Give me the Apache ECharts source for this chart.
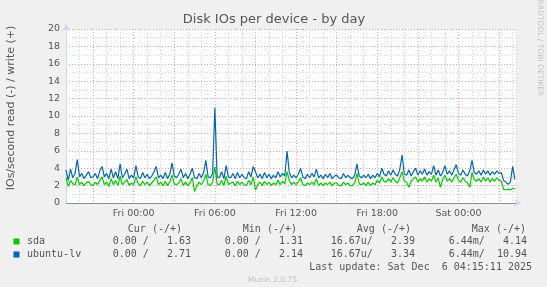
<!DOCTYPE html>
<html><head><meta charset="utf-8">
<script src="https://cdn.jsdelivr.net/npm/echarts@6/dist/echarts.min.js"></script>
<style>html,body{margin:0;padding:0;background:#f0f0f0}#c{width:547px;height:287px}</style>
</head><body><div id="c"></div><script>
// Time in hours relative to Fri 00:00; samples every 10 minutes starting Thu 19:00
const startHour = -5;
const stepHours = 1 / 6;

const sda = [
 2.9,1.9,2.6,2.2,2.1,3.0,
 2.1,2.4,2.0,2.3,2.5,2.1,
 2.0,2.4,2.1,2.6,3.0,2.1,
 2.4,1.9,2.8,2.1,2.6,2.0,
 3.1,2.1,2.4,2.7,2.0,2.3,
 2.1,3.0,2.2,2.0,2.5,2.1,
 2.4,2.0,2.3,2.6,3.0,2.1,
 2.4,2.0,2.5,2.0,2.4,3.2,
 2.2,2.1,2.3,2.8,2.0,2.4,
 2.0,2.3,2.9,1.31,2.0,2.4,
 2.1,2.5,3.3,2.1,2.0,2.4,
 4.14,2.2,2.1,2.6,2.0,3.1,
 2.1,2.3,2.4,2.0,2.5,2.1,
 2.4,2.1,2.0,2.6,2.1,3.0,
 1.5,2.1,2.4,2.0,2.5,2.1,
 2.4,2.0,2.3,2.1,2.6,2.1,
 2.5,2.2,3.6,2.6,2.1,2.4,
 2.1,2.4,2.9,2.1,2.0,2.3,
 2.1,2.4,2.1,2.8,2.0,2.3,
 2.0,2.3,2.1,2.4,2.0,2.3,
 2.3,2.0,2.0,2.4,2.1,2.3,
 2.0,2.0,2.3,3.4,2.2,2.1,
 2.3,2.0,2.4,2.0,2.3,2.1,
 2.6,2.3,3.0,2.5,2.4,2.8,
 2.4,2.9,2.5,2.3,2.9,3.6,
 2.5,2.4,1.8,2.5,2.8,3.0,
 2.4,2.8,2.5,3.0,2.4,2.8,
 2.5,3.2,2.4,2.9,1.8,2.7,
 3.2,2.5,2.8,2.4,2.9,3.3,
 2.6,2.4,2.9,2.5,2.3,1.8,
 3.5,2.7,2.5,2.8,2.4,3.0,
 2.5,2.9,2.4,2.8,2.5,2.9,
 2.6,2.5,1.6,1.5,1.6,1.5,
 1.7,1.63
];

const ubuntuLv = [
 3.8,2.6,3.9,2.9,3.4,5.0,
 3.0,3.4,2.8,3.2,3.6,2.9,
 3.0,3.4,2.8,3.7,4.2,3.0,
 3.4,2.8,3.9,2.9,3.6,2.8,
 4.5,2.9,3.3,3.9,2.8,3.2,
 2.9,4.3,3.0,2.8,3.5,2.9,
 3.3,2.8,3.1,3.6,4.2,2.9,
 3.2,2.8,3.5,2.8,3.3,4.6,
 3.1,2.9,3.3,3.9,2.9,3.4,
 2.8,3.3,4.0,2.9,2.8,3.4,
 2.9,3.5,4.9,3.0,2.9,3.4,
 10.94,3.0,2.9,3.6,2.8,4.3,
 3.0,2.9,3.4,2.8,3.5,2.9,
 3.3,2.9,2.8,3.6,3.0,4.2,
 3.6,2.9,3.3,2.8,3.5,2.9,
 3.3,2.8,3.2,2.9,3.6,3.0,
 3.4,3.1,5.98,3.5,2.9,3.2,
 2.9,3.3,4.0,3.0,2.8,3.3,
 2.9,3.4,3.0,3.9,2.9,3.2,
 2.8,3.3,2.9,3.4,2.8,3.1,
 3.2,2.9,2.8,3.4,2.9,3.2,
 2.9,2.8,3.2,4.5,3.1,2.9,
 3.2,2.9,3.3,2.8,3.2,2.9,
 3.4,3.0,4.0,3.3,3.1,3.7,
 3.2,3.8,3.3,3.1,3.9,5.5,
 3.3,3.2,3.8,3.1,3.6,4.0,
 3.2,3.7,3.3,3.9,3.2,3.6,
 3.3,4.3,3.2,3.8,3.1,3.5,
 4.3,3.3,3.7,3.2,3.8,4.4,
 3.4,3.2,3.8,3.3,3.1,3.7,
 4.9,3.5,3.3,3.7,3.2,3.8,
 3.3,3.7,3.2,3.6,3.3,3.7,
 3.4,3.5,2.6,2.4,2.14,2.4,
 4.2,2.71
];

const xLabelHours = [0, 6, 12, 18, 24];
const xLabelTexts = ['Fri 00:00', 'Fri 06:00', 'Fri 12:00', 'Fri 18:00', 'Sat 00:00'];
const yLabelValues = [0, 2, 4, 6, 8, 10, 12, 14, 16, 18, 20];

const legendHeaders = ['Cur (-/+)', 'Min (-/+)', 'Avg (-/+)', 'Max (-/+)'];
const seriesNames = ['sda', 'ubuntu-lv'];
const seriesColors = ['#00cc00', '#0066b3'];
const legendValues = [
  ['0.00 /   1.63', '0.00 /   1.31', '16.67u/   2.39', '6.44m/   4.14'],
  ['0.00 /   2.71', '0.00 /   2.14', '16.67u/   3.34', '6.44m/  10.94']
];
const lastUpdate = 'Last update: Sat Dec  6 04:15:11 2025';

const toPairs = arr => arr.map((v, i) => [startHour + i * stepHours, v]);

const chart = echarts.init(document.getElementById('c'), null, {renderer: 'canvas'});

const mono = '10px "DejaVu Sans Mono"';
const txtCol = '#555';
const headerRight = [182, 297, 411, 526];
const valueRight = [191, 303, 415, 527];
const rowY = [241.5, 254.5];

const graphics = [
  {type: 'text', x: 274, y: 20, style: {text: 'Disk IOs per device - by day', font: '13px "DejaVu Sans"', fill: '#555', textAlign: 'center', textVerticalAlign: 'middle'}},
  {type: 'text', x: 11, y: 108, rotation: Math.PI / 2, style: {text: 'IOs/second read (-) / write (+)', font: '11px "DejaVu Sans"', fill: txtCol, textAlign: 'center', textVerticalAlign: 'middle'}},
  {type: 'text', x: 540, y: 48, rotation: -Math.PI / 2, style: {text: 'RRDTOOL / TOBI OETIKER', font: '7.5px "DejaVu Sans"', fill: '#c4c4c4', textAlign: 'center', textVerticalAlign: 'middle'}},
  {type: 'text', x: 532, y: 267.5, style: {text: lastUpdate, font: mono, fill: txtCol, textAlign: 'right', textVerticalAlign: 'middle'}},
  {type: 'text', x: 272.5, y: 280, style: {text: 'Munin 2.0.75', font: '7.5px "DejaVu Sans"', fill: '#c0c0c0', textAlign: 'center', textVerticalAlign: 'middle'}}
];
legendHeaders.forEach((h, i) => graphics.push({type: 'text', x: headerRight[i], y: 229, style: {text: h, font: mono, fill: txtCol, textAlign: 'right', textVerticalAlign: 'middle'}}));
seriesNames.forEach((n, r) => {
  graphics.push({type: 'rect', shape: {x: 13.5, y: rowY[r] - 3, width: 6, height: 6}, style: {fill: seriesColors[r]}});
  graphics.push({type: 'text', x: 27, y: rowY[r], style: {text: n, font: mono, fill: txtCol, textAlign: 'left', textVerticalAlign: 'middle'}});
  legendValues[r].forEach((v, i) => graphics.push({type: 'text', x: valueRight[i], y: rowY[r], style: {text: v, font: mono, fill: txtCol, textAlign: 'right', textVerticalAlign: 'middle'}}));
});

chart.setOption({
  animation: false,
  backgroundColor: '#f0f0f0',
  grid: {left: 66, right: 31, top: 29, bottom: 84, show: true, backgroundColor: '#ffffff', borderWidth: 0},
  xAxis: {
    type: 'value', min: -5, max: 28.25, interval: 1,
    axisLine: {show: true, onZero: false, lineStyle: {color: '#CFD6F8', width: 1}, symbol: ['none', 'arrow'], symbolSize: [6, 7], symbolOffset: [0, 5]},
    axisTick: {show: false},
    axisLabel: {
      color: txtCol, fontFamily: 'DejaVu Sans', fontSize: 9.5, margin: 6, showMinLabel: true, showMaxLabel: false,
      formatter: v => { const k = xLabelHours.indexOf(v); return k >= 0 ? xLabelTexts[k] : ''; }
    },
    splitLine: {show: true, lineStyle: {color: ['#d4d4d4', '#d4d4d4', '#eba0a0'], type: [1, 2], width: 1}}
  },
  yAxis: {
    type: 'value', min: 0, max: 20, interval: 1,
    axisLine: {show: true, onZero: false, lineStyle: {color: '#CFD6F8', width: 1}, symbol: ['none', 'arrow'], symbolSize: [6, 7], symbolOffset: [0, 5]},
    axisTick: {show: false},
    axisLabel: {
      color: txtCol, fontFamily: 'DejaVu Sans', fontSize: 9.5, margin: 6,
      formatter: v => yLabelValues.indexOf(v) >= 0 ? String(v) : ''
    },
    splitLine: {show: true, lineStyle: {color: ['#eba0a0', '#d4d4d4'], type: [1, 2], width: 1}}
  },
  series: [
    {name: seriesNames[0], type: 'line', data: toPairs(sda), symbol: 'none', lineStyle: {color: seriesColors[0], width: 1.2}, itemStyle: {color: seriesColors[0]},
     markLine: {silent: true, symbol: 'none', label: {show: false}, lineStyle: {color: '#8a8aa6', type: 'solid', width: 1}, data: [{yAxis: 0}]}},
    {name: seriesNames[1], type: 'line', data: toPairs(ubuntuLv), symbol: 'none', lineStyle: {color: seriesColors[1], width: 1.2}, itemStyle: {color: seriesColors[1]}}
  ],
  graphic: graphics
});
</script></body></html>
